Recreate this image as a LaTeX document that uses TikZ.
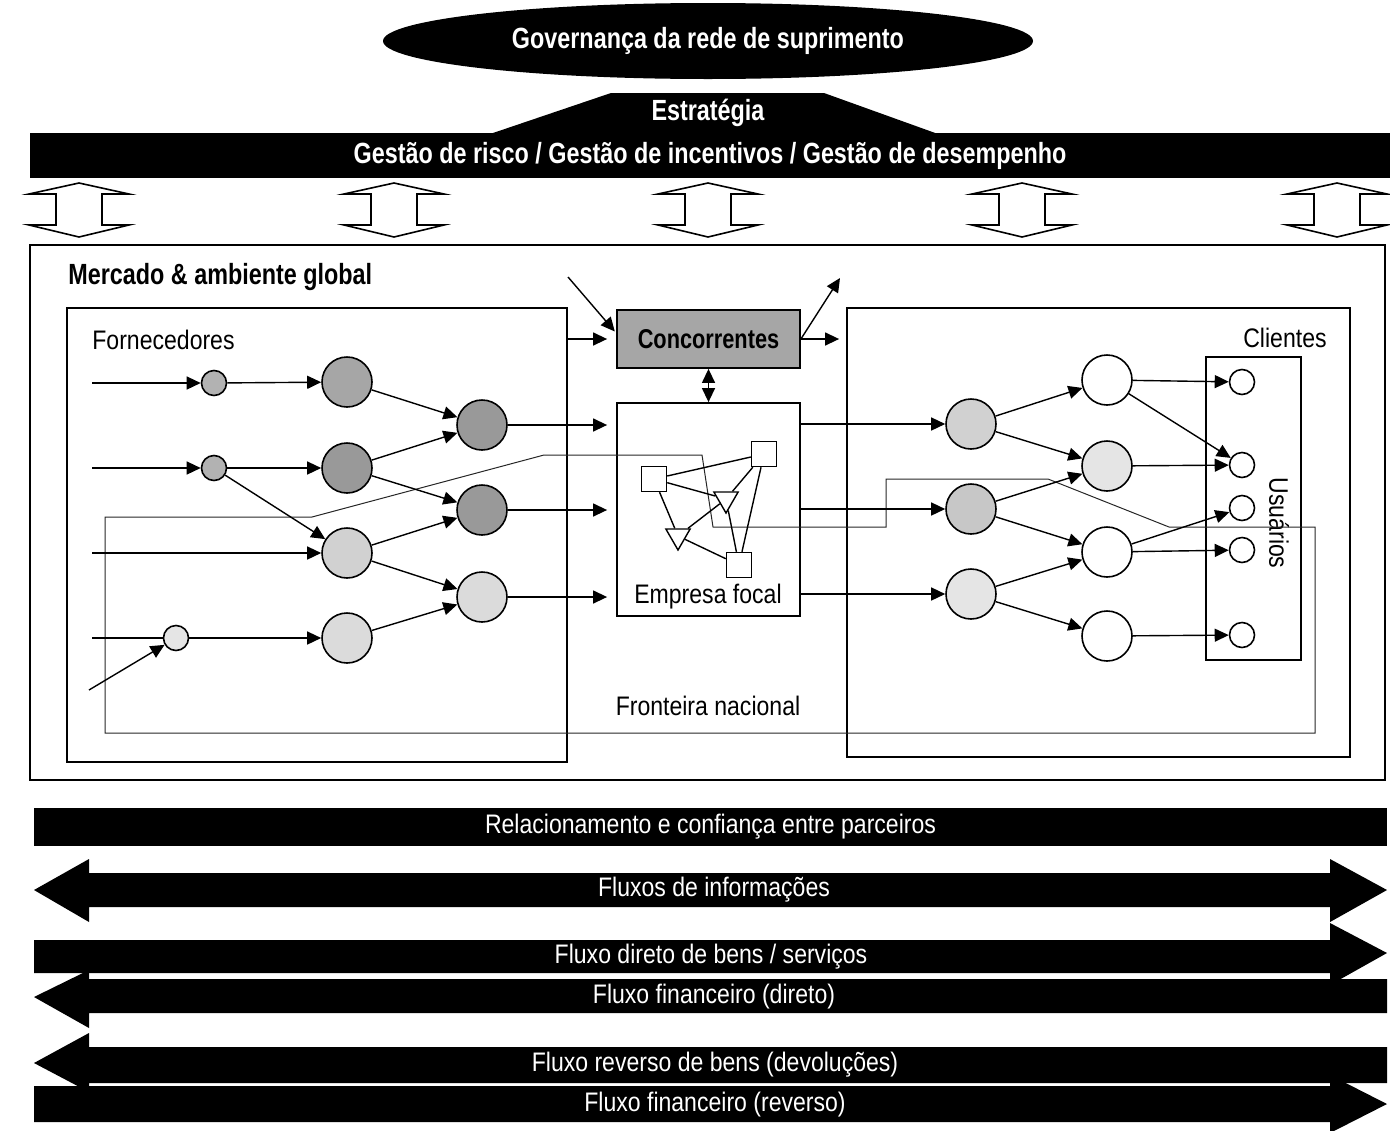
\documentclass[tikz,border=0pt]{standalone}
\usepackage{fontspec}
\setmainfont{Liberation Sans}[UprightFeatures={FakeStretch=0.86}, BoldFeatures={FakeStretch=0.80}]
\usetikzlibrary{arrows.meta, shapes.geometric}

\begin{document}
\begin{tikzpicture}[
        x=0.5pt, y=-0.5pt,
        every node/.style={inner sep=0pt, font=\fontsize{13.4}{15}\selectfont},
        ttl/.style={font=\fontsize{14.6}{16}\selectfont\bfseries},
        onblack/.style={text=white},
        pane/.style={draw, line width=0.9pt},
        nd/.style={circle, draw, line width=0.8pt, minimum size=25pt},
        sm/.style={circle, draw, line width=0.8pt, minimum size=12.5pt},
        sq/.style={rectangle, draw, line width=0.7pt, minimum size=12.5pt},
        tri/.style={regular polygon, regular polygon sides=3, shape border rotate=180, draw, line width=0.7pt, minimum size=14pt},
        link/.style={line width=0.7pt},
        flow/.style={link, -{Triangle[length=7pt, width=6.5pt]}},
        dblflow/.style={link, {Triangle[length=7pt, width=6.5pt]}-{Triangle[length=7pt, width=6.5pt]}},
        fronteira/.style={line width=0.5pt, black!85},
        updown/.style={draw, line width=0.8pt, fill=white}
    ]
    \useasboundingbox (0,0) rectangle (1390,1130);

    % governanca, estrategia e gestao
    \node[ellipse, fill=black, minimum width=325pt, minimum height=38pt, ttl, onblack] (gov) at (708,41) {Governança da rede de suprimento};
    \fill (490,134) -- (611,93) -- (824,93) -- (938,134) -- cycle;
    \node[ttl, onblack] (estr) at (708,113) {Estratégia};
    \node[fill=black, minimum width=680pt, minimum height=22.5pt, ttl, onblack] (gest) at (710,155.5) {Gestão de risco / Gestão de incentivos / Gestão de desempenho};
    \foreach \cx in {79,394,708,1022,1337}
        \draw[updown] (\cx,183) -- (\cx+50,194) -- (\cx+23,194) -- (\cx+23,225) -- (\cx+50,225) -- (\cx,237)
            -- (\cx-50,225) -- (\cx-23,225) -- (\cx-23,194) -- (\cx-50,194) -- cycle;

    % mercado
    \draw[pane] (30,245) rectangle (1385,780);
    \node[ttl, anchor=west] (merc) at (68,277) {Mercado \& ambiente global};
    \node[pane, minimum width=250pt, minimum height=227pt] (forn) at (317,535) {};
    \node[anchor=west] (fornl) at (92,340) {Fornecedores};
    \node[pane, minimum width=251.5pt, minimum height=224.5pt] (cli) at (1098.5,532.5) {};
    \node[anchor=east] (clil) at (1327,338) {Clientes};
    \node[pane, minimum width=47.5pt, minimum height=151.5pt] (usu) at (1253.5,508.5) {};
    \node[rotate=-90] (usul) at (1279,523) {Usuários};
    \node[pane, fill=black!35, minimum width=91.5pt, minimum height=29pt, font=\fontsize{13.6}{15}\selectfont\bfseries] (conc) at (708.5,339) {Concorrentes};
    \node[pane, minimum width=91.5pt, minimum height=106.5pt] (ef) at (708.5,509.5) {};
    \node (efl) at (708,597) {Empresa focal};
    \node (fronl) at (708,706) {Fronteira nacional};
    \draw[fronteira] (105,517) -- (312,517) -- (544,455) -- (702,455) -- (713,527) -- (886,527) -- (886,479)
        -- (1048,479) -- (1169,527) -- (1315,527) -- (1315,733) -- (105,733) -- cycle;

    % fornecedores
    \node[sm, fill=black!30] (s1) at (214,383) {};
    \node[sm, fill=black!30] (s2) at (214,468) {};
    \node[sm, fill=black!10] (s3) at (176,638) {};
    \node[nd, fill=black!35] (b1) at (347,382) {};
    \node[nd, fill=black!40] (b2) at (347,468) {};
    \node[nd, fill=black!18] (b3) at (347,553) {};
    \node[nd, fill=black!14] (b4) at (347,638) {};
    \node[nd, fill=black!40] (c1) at (482,425) {};
    \node[nd, fill=black!40] (c2) at (482,510) {};
    \node[nd, fill=black!14] (c3) at (482,597) {};
    \coordinate (i1) at (92,383);
    \coordinate (i2) at (92,468);
    \coordinate (i3) at (92,553);
    \coordinate (i4) at (92,638);
    \coordinate (i5) at (89,690);
    \draw[flow] (i1) -- (s1);
    \draw[flow] (i2) -- (s2);
    \draw[flow] (i3) -- (b3);
    \draw[link] (i4) -- (s3);
    \draw[flow] (i5) -- (s3);
    \draw[flow] (s1) -- (b1);
    \draw[flow] (s2) -- (b2);
    \draw[flow] (s2) -- (b3);
    \draw[flow] (s3) -- (b4);
    \draw[flow] (b1) -- (c1);
    \draw[flow] (b2) -- (c1);
    \draw[flow] (b2) -- (c2);
    \draw[flow] (b3) -- (c2);
    \draw[flow] (b3) -- (c3);
    \draw[flow] (b4) -- (c3);
    \draw[flow, shorten >=4.5pt] (c1) -- (c1 -| ef.west);
    \draw[flow, shorten >=4.5pt] (c2) -- (c2 -| ef.west);
    \draw[flow, shorten >=4.5pt] (c3) -- (c3 -| ef.west);

    % concorrentes
    \coordinate (cin) at (568,277);
    \coordinate (cout) at (840,278);
    \draw[flow, shorten >=1pt] (cin) -- ([yshift=3pt]conc.west);
    \draw[flow, shorten >=4.5pt] (forn.east |- conc) -- (conc.west);
    \draw[flow, shorten >=3.5pt] (conc.east) -- (cli.west |- conc);
    \draw[flow] (conc.east) -- (cout);
    \draw[dblflow] (conc) -- (ef);

    % empresa focal
    \node[sq] (q1) at (654,479) {};
    \node[sq] (q2) at (764,454) {};
    \node[sq] (q3) at (739,565) {};
    \node[tri] (t1) at (726,499) {};
    \node[tri] (t2) at (678,536) {};
    \draw[link] (q1) -- (q2);
    \draw[link] (q1) -- (t1);
    \draw[link] (t1) -- (q3);
    \draw[link] (q2) -- (t1);
    \draw[link] (q2) -- (q3);
    \draw[link] (q1) -- (t2);
    \draw[link] (t1) -- (t2);
    \draw[link] (q3) -- (t2);

    % clientes
    \node[nd, fill=black!18] (d1) at (971,424) {};
    \node[nd, fill=black!22] (d2) at (971,509) {};
    \node[nd, fill=black!10] (d3) at (971,594) {};
    \node[nd, fill=white] (e1) at (1107,380) {};
    \node[nd, fill=black!10] (e2) at (1107,466) {};
    \node[nd, fill=white] (e3) at (1107,552) {};
    \node[nd, fill=white] (e4) at (1107,636) {};
    \node[sm, fill=white] (u1) at (1242,382) {};
    \node[sm, fill=white] (u2) at (1242,465) {};
    \node[sm, fill=white] (u3) at (1242,508) {};
    \node[sm, fill=white] (u4) at (1242,550) {};
    \node[sm, fill=white] (u5) at (1242,635) {};
    \draw[flow] (ef.east |- d1) -- (d1);
    \draw[flow] (ef.east |- d2) -- (d2);
    \draw[flow] (ef.east |- d3) -- (d3);
    \draw[flow] (d1) -- (e1);
    \draw[flow] (d1) -- (e2);
    \draw[flow] (d2) -- (e2);
    \draw[flow] (d2) -- (e3);
    \draw[flow] (d3) -- (e3);
    \draw[flow] (d3) -- (e4);
    \draw[flow] (e1) -- (u1);
    \draw[flow] (e1) -- (u2);
    \draw[flow] (e2) -- (u2);
    \draw[flow] (e3) -- (u3);
    \draw[flow] (e3) -- (u4);
    \draw[flow] (e4) -- (u5);

    % relacionamento e fluxos
    \node[fill=black, minimum width=676.5pt, minimum height=19pt, onblack] (rel) at (710.5,827) {Relacionamento e confiança entre parceiros};
    \fill (34,890) -- (89,859) -- (89,873) -- (1330,873) -- (1330,859) -- (1387,890) -- (1330,922) -- (1330,907) -- (89,907) -- (89,922) -- cycle;
    \node[onblack] (info) at (714,890) {Fluxos de informações};
    \fill (34,940) -- (1330,940) -- (1330,923) -- (1387,953) -- (1330,985) -- (1330,973) -- (34,973) -- cycle;
    \node[onblack] (dir) at (711,957) {Fluxo direto de bens / serviços};
    \fill (1387,979) -- (89,979) -- (89,970) -- (34,997) -- (89,1028) -- (89,1013) -- (1387,1013) -- cycle;
    \node[onblack] (fdir) at (714,997) {Fluxo financeiro (direto)};
    \fill (1387,1047) -- (89,1047) -- (89,1033) -- (34,1063) -- (89,1092) -- (89,1083) -- (1387,1083) -- cycle;
    \node[onblack] (rev) at (715,1065) {Fluxo reverso de bens (devoluções)};
    \fill (34,1086) -- (1330,1086) -- (1330,1075) -- (1387,1104) -- (1330,1133) -- (1330,1122) -- (34,1122) -- cycle;
    \node[onblack] (frev) at (715,1105) {Fluxo financeiro (reverso)};
\end{tikzpicture}
\end{document}
